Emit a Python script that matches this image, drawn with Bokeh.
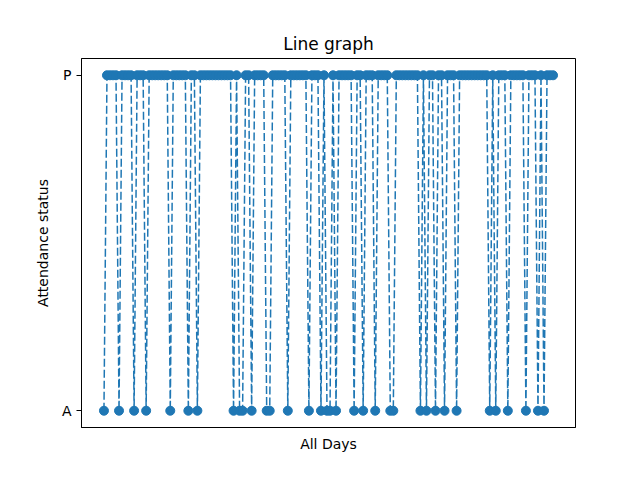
from bokeh.plotting import figure
from bokeh.models import Range1d, FixedTicker, ColumnDataSource
from bokeh.embed import file_html
from bokeh.resources import INLINE

# day index 0..149, status per day: "A" = absent, "P" = present
n_days = 150
absent_days = [0, 5, 10, 14, 22, 28, 31, 43, 45, 46, 49, 54, 55, 61, 68, 72, 74, 75, 77,
               83, 86, 90, 95, 96, 105, 107, 110, 113, 117, 128, 130, 134, 140, 144, 146]
status_labels = ["A", "P"]

days = list(range(n_days))
status = ["A" if d in absent_days else "P" for d in days]
status_num = [status_labels.index(s) for s in status]

src = ColumnDataSource(data=dict(day=days, status=status_num))

color = "#1f77b4"
span = n_days - 1

p = figure(width=624, height=464, output_backend="svg", toolbar_location=None,
           title="Line graph",
           x_range=Range1d(-0.05 * span, span * 1.05),
           y_range=Range1d(-0.05, 1.05),
           min_border_left=81, min_border_right=49, min_border_top=58, min_border_bottom=37)

p.line("day", "status", source=src, line_color=color, line_width=1.5, line_dash="8 3")
p.scatter("day", "status", source=src, size=9, fill_color=color, line_color=color)

p.title.align = "center"
p.title.text_font = "DejaVu Sans"
p.title.text_font_size = "17px"
p.title.text_font_style = "normal"
p.title.text_color = "black"

p.xgrid.visible = False
p.ygrid.visible = False
p.outline_line_color = "black"
p.outline_line_alpha = 1.0

p.xaxis.ticker = FixedTicker(ticks=[])
p.xaxis.axis_label = "All Days"
p.yaxis.axis_label = "Attendance status"
p.yaxis.ticker = FixedTicker(ticks=[0, 1])
p.yaxis.major_label_overrides = {0: "A", 1: "P"}
p.yaxis.minor_tick_line_color = None
p.xaxis.minor_tick_line_color = None
p.yaxis.major_tick_out = 5
p.yaxis.major_tick_in = 0

for ax in (p.xaxis[0], p.yaxis[0]):
    ax.axis_line_color = "black"
    ax.major_tick_line_color = "black"
    ax.axis_label_text_font = "DejaVu Sans"
    ax.axis_label_text_font_size = "14px"
    ax.axis_label_text_font_style = "normal"
    ax.axis_label_text_color = "black"
    ax.major_label_text_font = "DejaVu Sans"
    ax.major_label_text_font_size = "14px"
    ax.major_label_text_color = "black"
    ax.axis_label_standoff = 8

open("out.html", "w").write(file_html(p, INLINE))
